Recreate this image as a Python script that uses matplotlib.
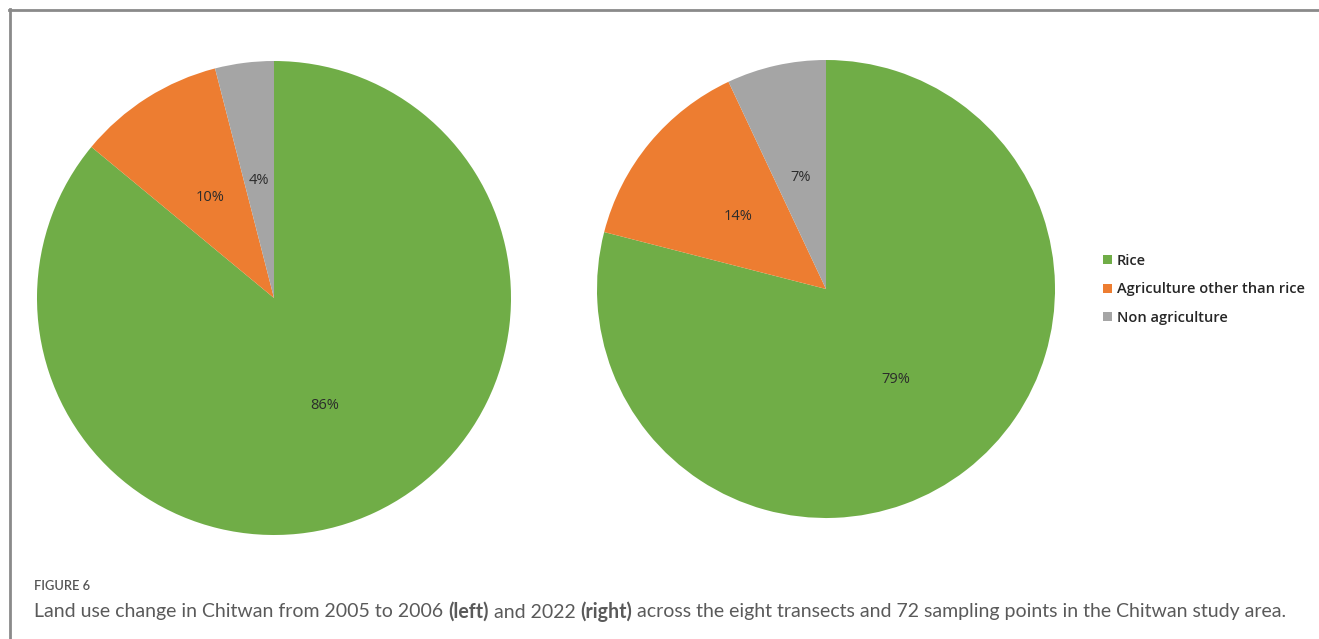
import matplotlib
matplotlib.use("Agg")
import matplotlib.pyplot as plt
from matplotlib.lines import Line2D

# data
categories = ["Rice", "Agriculture other than rice", "Non agriculture"]
share_2005 = [86, 10, 4]
share_2022 = [79, 14, 7]
colors = ["#70AD47", "#ED7D31", "#A5A5A5"]

W, H = 1319, 639
fig = plt.figure(figsize=(W / 100, H / 100), dpi=100)
fig.patch.set_facecolor("white")

# outer frame (top and left edges only)
fig.add_artist(Line2D([9 / W, 1.0], [1 - 9.5 / H, 1 - 9.5 / H], color="#8a8a8a", lw=2))
fig.add_artist(Line2D([9.5 / W, 9.5 / W], [0, 1 - 9 / H], color="#8a8a8a", lw=2))


def pie_axes(cx, cy, r):
    # cx, cy, r in pixels (y from top)
    return fig.add_axes([(cx - r) / W, (H - cy - r) / H, 2 * r / W, 2 * r / H])


for (cx, cy, r), vals in [((274, 298, 237), share_2005), ((826, 289, 229), share_2022)]:
    ax = pie_axes(cx, cy, r)
    wedges, texts, autotexts = ax.pie(
        vals, colors=colors, startangle=90, counterclock=False,
        autopct="%1.0f%%", pctdistance=0.5,
        textprops=dict(fontsize=10.5, color="#2b2b2b", family="Open Sans"))
    ax.set_xlim(-1, 1)
    ax.set_ylim(-1, 1)
    handles = wedges

leg = fig.legend(handles, categories, loc="upper left",
                 bbox_to_anchor=(1097 / W, 1 - 248 / H), frameon=False,
                 handlelength=0.6, handleheight=0.6, handletextpad=0.35,
                 labelspacing=1.0, borderaxespad=0,
                 prop=dict(family="Open Sans", weight="semibold", size=10.5))
for t in leg.get_texts():
    t.set_color("#262626")

# caption
fig.text(34 / W, 1 - 586 / H, "FIGURE 6", fontsize=9.3, color="#555555",
         family="Lato", weight="semibold", va="center")

pieces = [("Land use change in Chitwan from 2005 to 2006 ", "normal"),
          ("(left)", "bold"),
          (" and 2022 ", "normal"),
          ("(right)", "bold"),
          (" across the eight transects and 72 sampling points in the Chitwan study area.", "normal")]
renderer = fig.canvas.get_renderer()
x = 34
for s, w in pieces:
    t = fig.text(x / W, 1 - 612 / H, s, fontsize=14.05, color="#5a5a5a",
                 family="Lato", weight=w, va="center")
    x += t.get_window_extent(renderer).width

fig.savefig("out.png", dpi=100)
